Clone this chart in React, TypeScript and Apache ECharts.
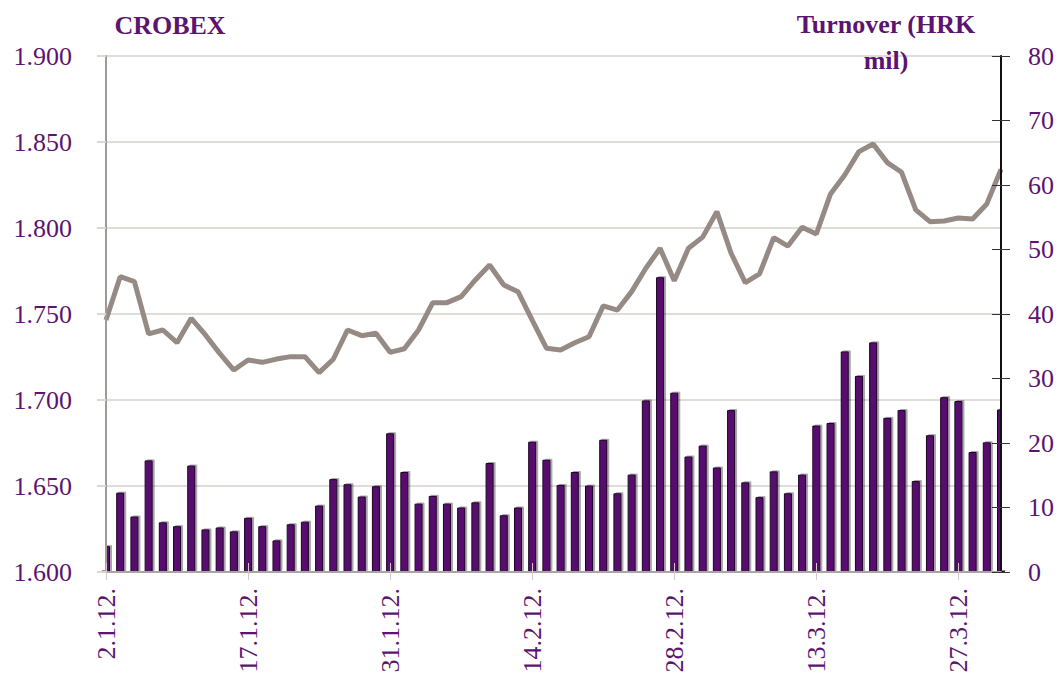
import React, { useEffect, useRef } from "react";
import * as echarts from "echarts";

const dates = [
  "2.1.12.", "3.1.12.", "4.1.12.", "5.1.12.", "9.1.12.", "10.1.12.", "11.1.12.", "12.1.12.", "13.1.12.", "16.1.12.",
  "17.1.12.", "18.1.12.", "19.1.12.", "20.1.12.", "23.1.12.", "24.1.12.", "25.1.12.", "26.1.12.", "27.1.12.", "30.1.12.",
  "31.1.12.", "1.2.12.", "2.2.12.", "3.2.12.", "6.2.12.", "7.2.12.", "8.2.12.", "9.2.12.", "10.2.12.", "13.2.12.",
  "14.2.12.", "15.2.12.", "16.2.12.", "17.2.12.", "20.2.12.", "21.2.12.", "22.2.12.", "23.2.12.", "24.2.12.", "27.2.12.",
  "28.2.12.", "29.2.12.", "1.3.12.", "2.3.12.", "5.3.12.", "6.3.12.", "7.3.12.", "8.3.12.", "9.3.12.", "12.3.12.",
  "13.3.12.", "14.3.12.", "15.3.12.", "16.3.12.", "19.3.12.", "20.3.12.", "21.3.12.", "22.3.12.", "23.3.12.", "26.3.12.",
  "27.3.12.", "28.3.12.", "29.3.12.", "30.3.12.",
];

const crobex = [
  1.7465, 1.7717, 1.7688, 1.7384, 1.7407, 1.7333, 1.7475, 1.7378, 1.7271, 1.7174,
  1.7233, 1.7219, 1.7238, 1.7252, 1.7252, 1.7159, 1.7237, 1.7407, 1.7374, 1.7388,
  1.7277, 1.7298, 1.7407, 1.7566, 1.7566, 1.7601, 1.7698, 1.7785, 1.7669, 1.763,
  1.7465, 1.7301, 1.7291, 1.7333, 1.7368, 1.7547, 1.7523, 1.763, 1.7766, 1.7882,
  1.7694, 1.7882, 1.7947, 1.8095, 1.7853, 1.7682, 1.7733, 1.7944, 1.7895, 1.8004,
  1.7965, 1.8198, 1.8308, 1.8444, 1.8488, 1.838, 1.8324, 1.8105, 1.8037, 1.8041,
  1.8058, 1.8052, 1.814, 1.8341,
];

const turnover = [
  4.0, 12.3, 8.6, 17.3, 7.7, 7.1, 16.5, 6.6, 6.9, 6.3,
  8.4, 7.1, 4.9, 7.4, 7.8, 10.3, 14.4, 13.6, 11.7, 13.3,
  21.5, 15.5, 10.6, 11.8, 10.6, 10.0, 10.8, 16.9, 8.8, 10.0,
  20.2, 17.4, 13.5, 15.5, 13.4, 20.5, 12.2, 15.1, 26.6, 45.7,
  27.8, 17.9, 19.6, 16.2, 25.1, 13.9, 11.6, 15.6, 12.2, 15.1,
  22.7, 23.1, 34.2, 30.4, 35.6, 23.9, 25.1, 14.1, 21.2, 27.1,
  26.5, 18.6, 20.1, 25.2,
];

const leftTitle = "CROBEX";
const rightTitle1 = "Turnover (HRK";
const rightTitle2 = "mil)";

const PURPLE = "#5b1470";
const FONT = "'Liberation Serif', 'DejaVu Serif', serif";

export default function App() {
  const ref = useRef<HTMLDivElement>(null);
  useEffect(() => {
    if (!ref.current) return;
    const chart = echarts.init(ref.current, null, { renderer: "svg" });
    chart.setOption({
      animation: false,
      backgroundColor: "#ffffff",
      grid: {
        left: 106,
        right: 59,
        top: 56,
        bottom: 110,
        show: true,
        borderColor: "#8f8c8a",
        borderWidth: 2,
        backgroundColor: "transparent",
      },
      graphic: [
        {
          type: "text",
          x: 170,
          y: 25,
          z: 100,
          style: {
            text: leftTitle,
            font: `bold 26px ${FONT}`,
            fill: PURPLE,
            textAlign: "center",
            textVerticalAlign: "middle",
          },
        },
        {
          type: "text",
          x: 886,
          y: 24,
          z: 100,
          style: {
            text: rightTitle1,
            font: `bold 26px ${FONT}`,
            fill: PURPLE,
            textAlign: "center",
            textVerticalAlign: "middle",
          },
        },
        {
          type: "text",
          x: 886,
          y: 60,
          z: 100,
          style: {
            text: rightTitle2,
            font: `bold 26px ${FONT}`,
            fill: PURPLE,
            textAlign: "center",
            textVerticalAlign: "middle",
          },
        },
        // masks hiding the halves of the edge bars that lie outside the plot area
        {
          type: "rect",
          z: 5,
          silent: true,
          shape: { x: 94, y: 480, width: 11, height: 90.5 },
          style: { fill: "#ffffff" },
        },
        {
          type: "rect",
          z: 5,
          silent: true,
          shape: { x: 1002, y: 380, width: 8, height: 190.5 },
          style: { fill: "#ffffff" },
        },
      ],
      xAxis: [
        {
          type: "category",
          data: dates,
          boundaryGap: false,
          position: "bottom",
          z: 10,
          axisLine: { show: true, lineStyle: { color: "#a8a5a3", width: 2 } },
          axisTick: {
            show: true,
            interval: 9,
            length: 8,
            lineStyle: { color: "#cfcac6", width: 1 },
          },
          axisLabel: {
            interval: 9,
            rotate: 90,
            margin: 16,
            color: PURPLE,
            fontFamily: FONT,
            fontSize: 26,
          },
          splitLine: { show: false },
        },
        {
          type: "category",
          data: dates,
          boundaryGap: false,
          position: "bottom",
          z: 10,
          axisLine: { show: false },
          axisTick: {
            show: true,
            inside: true,
            interval: 9,
            length: 9,
            lineStyle: { color: "#cfcac6", width: 1 },
          },
          axisLabel: { show: false },
          splitLine: { show: false },
        },
      ],
      yAxis: [
        {
          type: "value",
          min: 1.6,
          max: 1.9,
          interval: 0.05,
          position: "left",
          z: 10,
          axisLine: { show: true, lineStyle: { color: "#a09a96", width: 2 } },
          axisTick: { show: true, length: 9, lineStyle: { color: "#dcd7d3", width: 2 } },
          axisLabel: {
            color: PURPLE,
            fontFamily: FONT,
            fontSize: 26,
            margin: 34,
            formatter: (v: number) => v.toFixed(3),
          },
          splitLine: { show: false },
        },
        {
          type: "value",
          min: 0,
          max: 80,
          interval: 10,
          position: "right",
          z: 10,
          axisLine: { show: true, lineStyle: { color: "#111111", width: 2 } },
          axisTick: { show: true, inside: true, length: 9, lineStyle: { color: "#333333", width: 1 } },
          axisLabel: {
            color: PURPLE,
            fontFamily: FONT,
            fontSize: 26,
            margin: 27,
          },
          splitLine: { show: false },
        },
        {
          type: "value",
          min: 0,
          max: 80,
          interval: 10,
          position: "right",
          z: 10,
          axisLine: { show: false },
          axisTick: { show: true, length: 9, lineStyle: { color: "#333333", width: 1 } },
          axisLabel: { show: false },
          splitLine: { show: false },
        },
        {
          // gridlines only, drawn beneath the bars
          type: "value",
          min: 1.6,
          max: 1.9,
          interval: 0.05,
          position: "left",
          z: 0,
          axisLine: { show: false },
          axisTick: { show: false },
          axisLabel: { show: false },
          splitLine: { show: true, lineStyle: { color: "#e0dcd8", width: 2 } },
        },
      ],
      series: [
        {
          name: "Turnover",
          type: "bar",
          xAxisIndex: 0,
          yAxisIndex: 1,
          data: turnover,
          barWidth: 8,
          clip: true,
          itemStyle: {
            color: "#570e6d",
            borderColor: "#1e0626",
            borderWidth: 1,
            shadowColor: "rgba(0,0,0,0.35)",
            shadowOffsetX: 2,
            shadowOffsetY: -1,
            shadowBlur: 1,
          },
          z: 2,
        },
        {
          name: "CROBEX",
          type: "line",
          xAxisIndex: 0,
          yAxisIndex: 0,
          data: crobex,
          showSymbol: false,
          symbol: "none",
          lineStyle: { color: "#958a84", width: 5 },
          z: 3,
        },
      ],
    });
    return () => chart.dispose();
  }, []);
  return (
    <div
      ref={ref}
      style={{ position: "fixed", left: 0, top: 0, width: 1060, height: 682, background: "#fff" }}
    />
  );
}
